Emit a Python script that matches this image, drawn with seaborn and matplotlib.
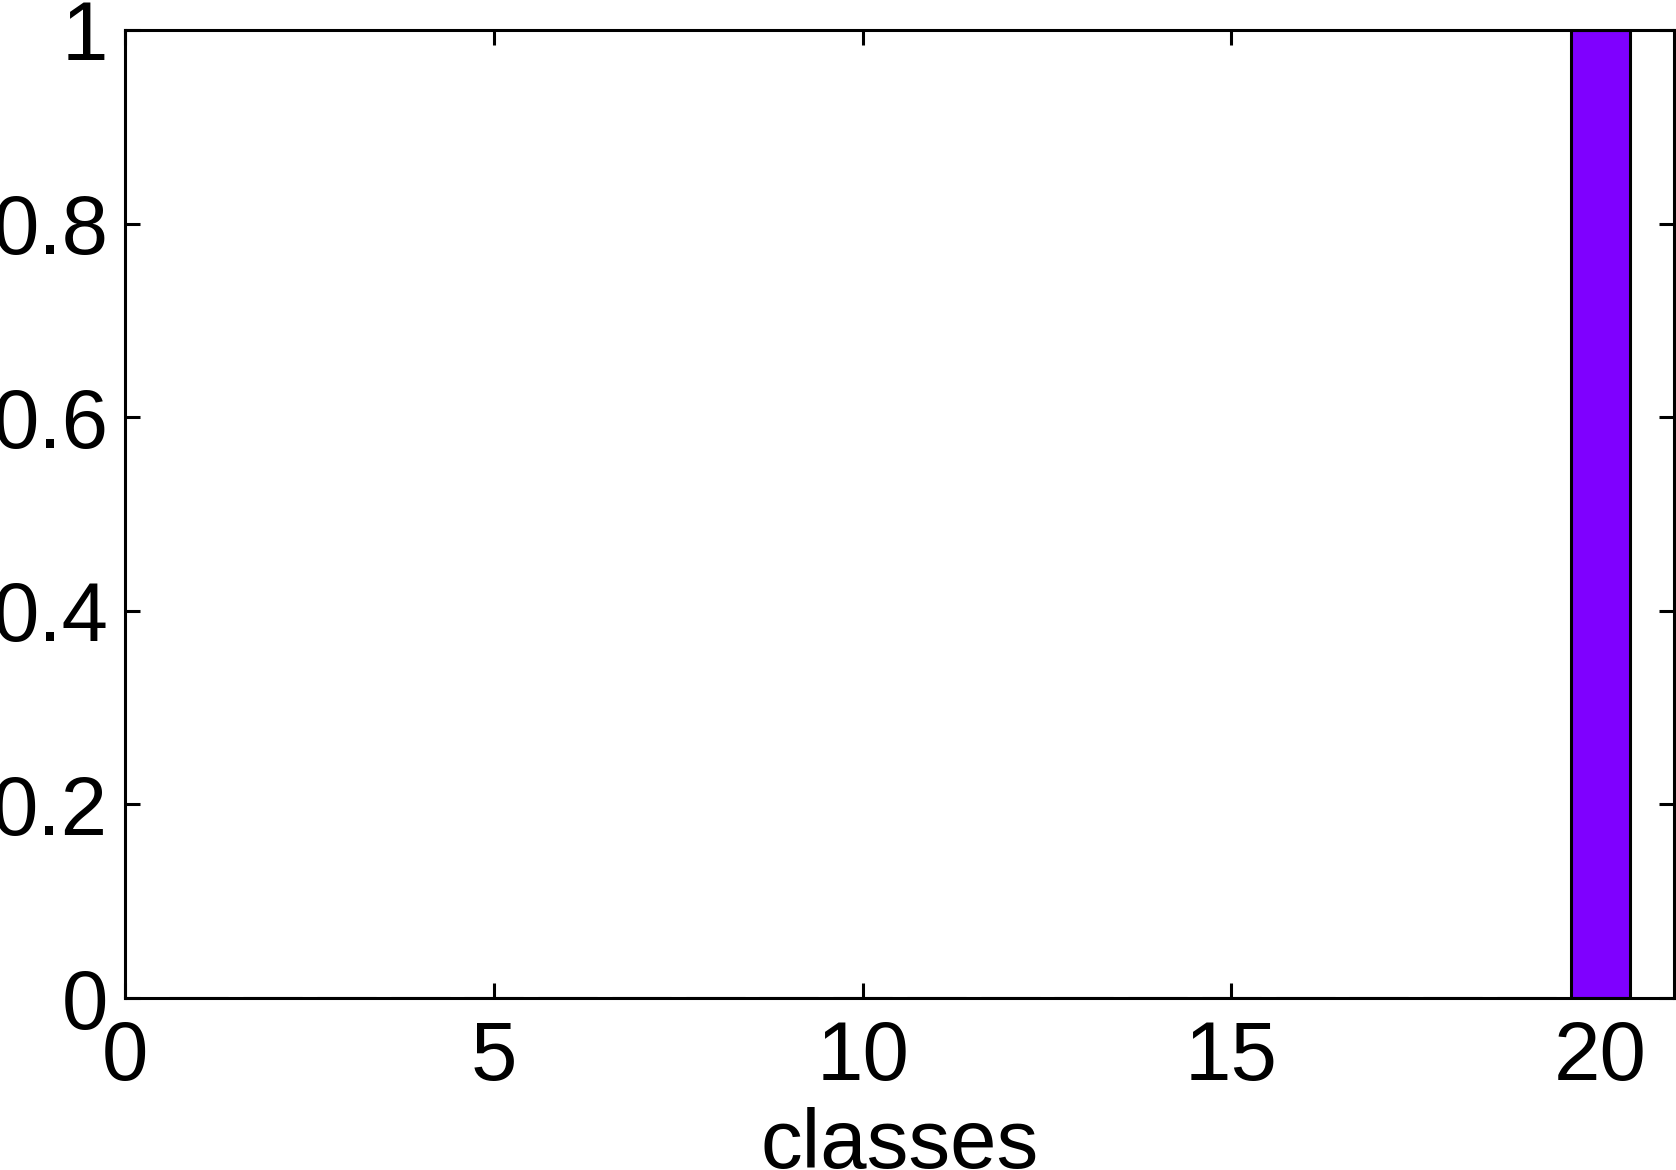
import matplotlib
matplotlib.use("Agg")
import matplotlib.pyplot as plt
import numpy as np
import pandas as pd
import seaborn as sns
from matplotlib.ticker import FuncFormatter

# data: 20 classes, all mass on class 20
classes = list(range(1, 21))
values = [0] * 19 + [1]
x_ticks = [0, 5, 10, 15, 20]
y_ticks = [0, 0.2, 0.4, 0.6, 0.8, 1]

sns.set_style("white")
plt.rcParams["font.family"] = ["Liberation Sans", "DejaVu Sans"]
plt.rcParams["text.color"] = "black"
plt.rcParams["axes.labelcolor"] = "black"

df = pd.DataFrame({"classes": classes, "value": values})

fig = plt.figure(figsize=(16.76, 11.70), dpi=100)
ax = fig.add_axes([125 / 1676, (1170 - 998) / 1170, 1549 / 1676, 968 / 1170])

sns.barplot(data=df, x="classes", y="value", native_scale=True, width=0.8,
            color="#7f00ff", saturation=1, edgecolor="black", linewidth=2.2,
            errorbar=None, ax=ax)

ax.set_xlim(0, 21)
ax.set_ylim(0, 1)
ax.set_xticks(x_ticks)
ax.set_yticks(y_ticks)
ax.yaxis.set_major_formatter(FuncFormatter(lambda v, _: f"{v:g}"))
ax.set_xlabel("classes", fontsize=60, labelpad=7, color="black")
ax.set_ylabel("")

# matlab-like ticks: inward, on all four sides
ax.tick_params(axis="both", direction="in", length=11, width=2.2,
               labelsize=60, top=True, right=True, bottom=True, left=True,
               color="black", labelcolor="black")
ax.tick_params(axis="x", pad=15)
ax.tick_params(axis="y", pad=12)
for s in ax.spines.values():
    s.set_linewidth(2.2)
    s.set_color("black")
    s.set_visible(True)

fig.savefig("out.png", dpi=100)
